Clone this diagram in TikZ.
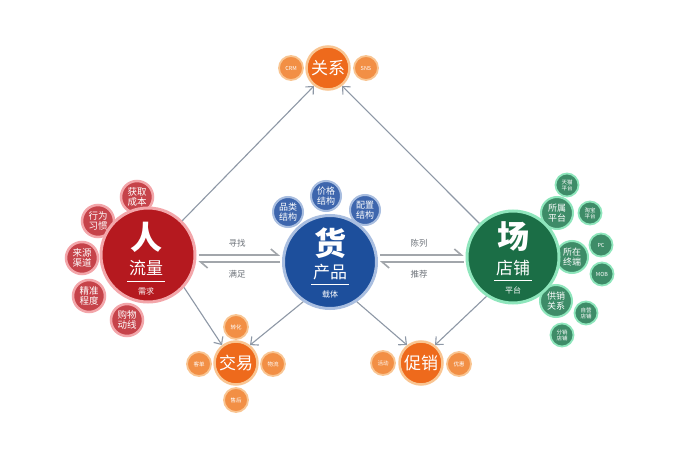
\documentclass[tikz,border=0pt]{standalone}
\usepackage{fontspec}
\setmainfont{Noto Sans CJK SC}
\usetikzlibrary{arrows.meta}
\definecolor{rmain}{HTML}{B5191F}
\definecolor{rsat}{HTML}{C6434A}
\definecolor{rhalo}{HTML}{F3A6AA}
\definecolor{bmain}{HTML}{1D4F9C}
\definecolor{bsat}{HTML}{3E66AD}
\definecolor{bhalo}{HTML}{A9BEE0}
\definecolor{gmain}{HTML}{1B6E46}
\definecolor{gsat}{HTML}{3E8C68}
\definecolor{ghalo}{HTML}{8EE6BC}
\definecolor{omain}{HTML}{EE6A1C}
\definecolor{osat}{HTML}{F28F45}
\definecolor{ohalo}{HTML}{F9C592}
\definecolor{lineg}{HTML}{8E98A6}
\definecolor{harpg}{HTML}{A2A6AB}
\definecolor{labg}{HTML}{6E737A}
\begin{document}
\begin{tikzpicture}[x=1pt,y=-1pt,
  bub/.style={circle, inner sep=0pt, minimum size=#1, text=white, align=center},
  mainred/.style={bub=94pt, fill=rmain, draw=rhalo, line width=3pt},
  satred/.style={bub=32pt, fill=rsat, draw=rhalo, line width=2.5pt, font=\fontsize{9.5}{10.5}\selectfont},
  mainblue/.style={bub=93pt, fill=bmain, draw=bhalo, line width=3pt},
  satblue/.style={bub=30pt, fill=bsat, draw=bhalo, line width=2pt, font=\fontsize{9}{10}\selectfont},
  maingreen/.style={bub=92pt, fill=gmain, draw=ghalo, line width=3pt},
  satgreen/.style={bub=32pt, fill=gsat, draw=ghalo, line width=2pt, font=\fontsize{9}{10}\selectfont},
  satgreens/.style={bub=23pt, fill=gsat, draw=ghalo, line width=1.8pt, font=\fontsize{5.5}{6}\selectfont},
  mainorange/.style={bub=43pt, fill=omain, draw=ohalo, line width=2.5pt, font=\fontsize{17}{18}\selectfont},
  satorange/.style={bub=24pt, fill=osat, draw=ohalo, line width=1.8pt, font=\fontsize{5.5}{6}\selectfont},
  bigchar/.style={text=white, inner sep=0pt, font=\bfseries\fontsize{32}{32}\selectfont},
  midtext/.style={text=white, inner sep=0pt, font=\fontsize{17}{18}\selectfont},
  smalltext/.style={text=white, inner sep=0pt, font=\fontsize{8}{9}\selectfont},
  uline/.style={draw=white, line width=0.6pt},
  conn/.style={draw=lineg, line width=1.1pt, -{Straight Barb[length=6pt,width=11pt,line width=1.1pt]}},
  harp/.style={draw=harpg, line width=1.8pt, -{Straight Barb[harpoon,length=7pt,width=12pt,line width=1.6pt]}},
  lab/.style={text=labg, inner sep=0pt, font=\fontsize{8.5}{9}\selectfont}]
\useasboundingbox (0,0) rectangle (700,470);
\fill[white] (0,0) rectangle (700,470);

% ---------- 人 ----------
\node[satred] (r1) at (137,197) {获取\\成本};
\node[satred] (r2) at (98,221) {行为\\习惯};
\node[satred] (r3) at (82,258) {来源\\渠道};
\node[satred] (r4) at (89,296) {精准\\程度};
\node[satred] (r5) at (127,320) {购物\\动线};
\node[mainred] (ren) at (148,255) {};
\node[bigchar] (renA) at (146,237) {人};
\node[midtext] (renB) at (146,268) {流量};
\draw[uline] (127,281) -- (165,281);
\node[smalltext] (renC) at (146,291) {需求};

% ---------- 货 ----------
\node[satblue] (h1) at (288,212) {品类\\结构};
\node[satblue] (h2) at (326,196) {价格\\结构};
\node[satblue] (h3) at (365,210) {配置\\结构};
\node[mainblue] (huo) at (330,262) {};
\node[bigchar] (huoA) at (330,243) {货};
\node[midtext] (huoB) at (330,272) {产品};
\draw[uline] (311,284) -- (349,284);
\node[smalltext] (huoC) at (330,294) {载体};

% ---------- 场 ----------
\node[satgreens] (g1) at (567,185) {天猫\\平台};
\node[satgreens] (g2) at (590,213) {淘宝\\平台};
\node[satgreen] (g3) at (557,213) {所属\\平台};
\node[satgreens] (g4) at (601,245) {PC};
\node[satgreens] (g5) at (602,274) {MOB};
\node[satgreen] (g6) at (572,257) {所在\\终端};
\node[satgreens] (g7) at (586,313) {自营\\店铺};
\node[satgreens] (g8) at (562,335) {分销\\店铺};
\node[satgreen] (g9) at (556,301) {供销\\关系};
\node[maingreen] (chang) at (513,257) {};
\node[bigchar] (changA) at (513,237) {场};
\node[midtext] (changB) at (513,268) {店铺};
\draw[uline] (494,280) -- (532,280);
\node[smalltext] (changC) at (513,290) {平台};

% ---------- 关系 ----------
\node[satorange] (o1) at (291,68) {CRM};
\node[satorange] (o2) at (366,68) {SNS};
\node[mainorange] (guanxi) at (328,68) {关系};

% ---------- 交易 ----------
\node[satorange] (j1) at (236,327) {转化};
\node[satorange] (j2) at (199,364) {客单};
\node[satorange] (j3) at (273,364) {物流};
\node[satorange] (j4) at (236,400) {售后};
\node[mainorange] (jiaoyi) at (236,363) {交易};

% ---------- 促销 ----------
\node[satorange] (c1) at (383,363) {活动};
\node[satorange] (c2) at (459,364) {优惠};
\node[mainorange] (cuxiao) at (421,363) {促销};

% ---------- connectors ----------
\draw[conn] (ren.45) -- (guanxi.232);
\draw[conn] (chang.135) -- (guanxi.-52);
\draw[conn] (ren.-42) -- (jiaoyi.128);
\draw[conn] (huo.236) -- (jiaoyi.52);
\draw[conn] (huo.-56) -- (cuxiao.128);
\draw[conn] (chang.-124) -- (cuxiao.52);

\draw[harp] ([xshift=2pt]ren.east |- 0,255) -- ([xshift=-2pt]huo.west |- 0,255);
\draw[harp] ([xshift=-2pt]huo.west |- 0,262) -- ([xshift=2pt]ren.east |- 0,262);
\draw[harp] ([xshift=2pt]huo.east |- 0,255) -- ([xshift=-2pt]chang.west |- 0,255);
\draw[harp] ([xshift=-2pt]chang.west |- 0,262) -- ([xshift=2pt]huo.east |- 0,262);

\node[lab] (t1) at (237,243) {寻找};
\node[lab] (t2) at (237,274) {满足};
\node[lab] (t3) at (419,243) {陈列};
\node[lab] (t4) at (419,274) {推荐};
\end{tikzpicture}
\end{document}
